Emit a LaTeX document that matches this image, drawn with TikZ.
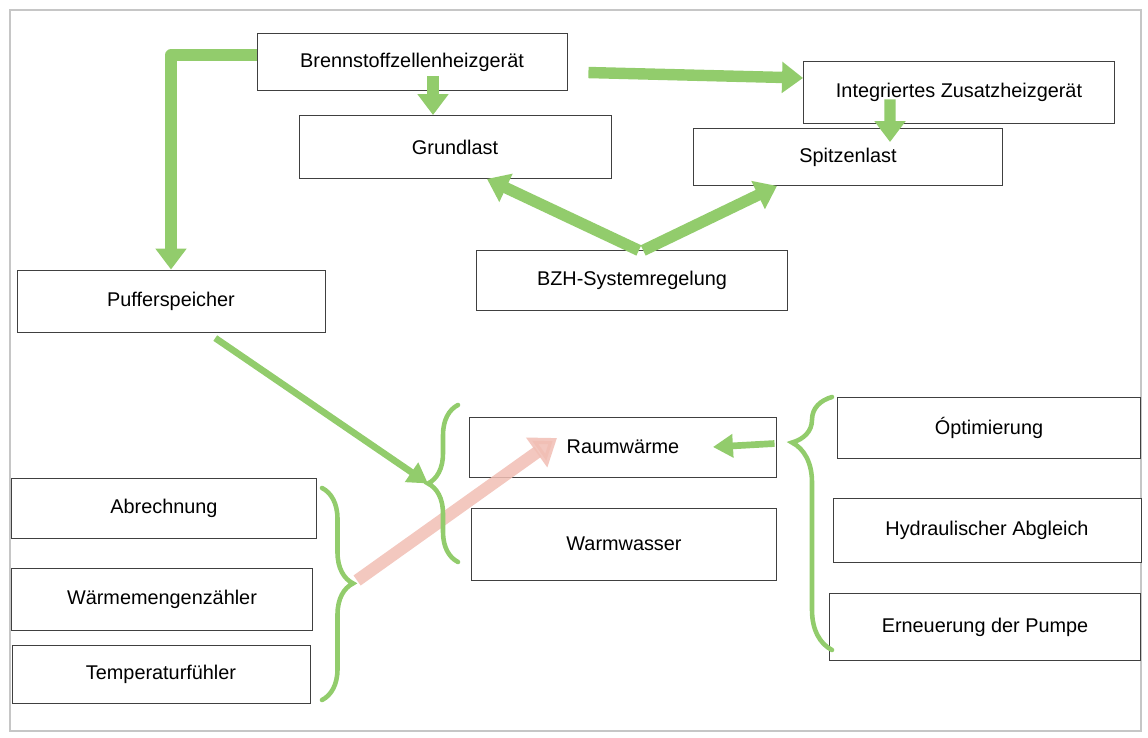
\documentclass[tikz,border=0pt]{standalone}
\usepackage{fontspec}
\setmainfont{Liberation Sans}
\usetikzlibrary{arrows.meta,decorations.pathreplacing}
\definecolor{marker}{RGB}{146,204,108}
\definecolor{markerred}{RGB}{241,190,180}

\begin{document}
\begin{tikzpicture}[scale=1,
	strip/.style={draw=black!75, line width=0.5pt, fill=white, minimum width=6.15cm, minimum height=1.2cm, inner sep=0pt, font=\fontsize{11.3}{13}\selectfont},
	pen/.style={draw=marker, line width=6.5pt, line join=round, -{Triangle[length=0.42cm, width=0.6cm]}},
	thinpen/.style={draw=marker, line width=3.8pt, -{Triangle[length=0.4cm, width=0.45cm]}},
	blush/.style={draw=markerred, line width=7pt, opacity=0.85, -{Triangle[length=0.5cm, width=0.7cm]}},
	curly/.style={draw=marker, line width=2.6pt, line cap=round, decorate, decoration={brace, amplitude=0.62cm, aspect=#1}}]
	\useasboundingbox (0,0) rectangle (22.96,14.76);
	\draw[gray!45, line width=1.4pt] (0.2,0.14) rectangle (22.82,14.56);

	% Erzeuger
	\draw (8.24,13.52) node[strip, minimum width=6.2cm, minimum height=1.14cm](brenn) {Brennstoffzellenheizgerät};
	\draw (9.10,11.82) node[strip, minimum width=6.24cm, minimum height=1.26cm](grund) {Grundlast};
	\draw (19.18,12.92) node[strip, minimum width=6.22cm, minimum height=1.24cm](zusatz) {Integriertes Zusatzheizgerät};
	\draw (16.96,11.62) node[strip, minimum width=6.18cm, minimum height=1.14cm](spitzen) {Spitzenlast};
	\draw (12.64,9.16) node[strip, minimum width=6.22cm](bzh) {BZH-Systemregelung};
	\draw (3.42,8.74) node[strip, minimum width=6.16cm, minimum height=1.24cm](puffer) {Pufferspeicher};

	% Verbraucher
	\draw (12.46,5.82) node[strip, minimum width=6.14cm](raum) {Raumwärme};
	\draw (12.48,3.88) node[strip, minimum width=6.1cm, minimum height=1.44cm](warm) {Warmwasser};

	% Massnahmen
	\draw (19.78,6.20) node[strip, minimum width=6.06cm, minimum height=1.22cm](opti) {Óptimierung};
	\draw (19.74,4.16) node[strip, minimum width=6.16cm, minimum height=1.28cm](hydr) {Hydraulischer Abgleich};
	\draw (19.70,2.22) node[strip, minimum width=6.22cm, minimum height=1.34cm](pumpe) {Erneuerung der Pumpe};
	\draw (3.28,4.60) node[strip, minimum width=6.1cm](abr) {Abrechnung};
	\draw (3.24,2.78) node[strip, minimum width=6.02cm, minimum height=1.24cm](wmz) {Wärmemengenzähler};
	\draw (3.22,1.28) node[strip, minimum width=5.96cm, minimum height=1.16cm](temp) {Temperaturfühler};

	% Klammern
	\draw[curly=0.45] (6.44,5.00) -- node[coordinate, pos=0.45, xshift=0.62cm](rbrace){} (6.44,0.76);
	\draw[blush, shorten <=0.1cm] (rbrace) -- ([xshift=-1.32cm, yshift=0.18cm]raum.center);
	\draw[curly=0.5, decoration={amplitude=0.6cm}] (9.16,3.52) -- node[coordinate, pos=0.5, xshift=-0.6cm](lbrace){} (9.16,6.66);
	\draw[curly=0.82, decoration={amplitude=0.8cm}] (16.64,1.76) -- node[coordinate, pos=0.82, xshift=-0.8cm](obrace){} (16.64,6.82);

	% Pfeile
	\draw[pen] ([yshift=0.14cm]brenn.west) -| (puffer.north);
	\draw[pen, shorten <=-0.3cm] ([xshift=0.42cm]brenn.south) -- ([xshift=-0.44cm]grund.north);
	\draw[pen, shorten <=0.42cm] ([yshift=-0.2cm]brenn.east) -- ([yshift=0.28cm]zusatz.west);
	\draw[pen] ([xshift=-1.38cm, yshift=0.48cm]zusatz.south) -- ([xshift=0.84cm, yshift=-0.28cm]spitzen.north);
	\draw[pen, shorten <=-0.04cm] ([xshift=0.1cm]bzh.north) -- ([xshift=0.64cm]grund.south);
	\draw[pen, shorten <=-0.04cm] ([xshift=0.26cm]bzh.north) -- ([xshift=-1.42cm]spitzen.south);
	\draw[thinpen, shorten <=0.2cm] ([xshift=0.72cm]puffer.south) -- (lbrace);
	\draw[thinpen, shorten <=0.35cm] (obrace) -- ([xshift=-1.28cm]raum.east);
\end{tikzpicture}
\end{document}
